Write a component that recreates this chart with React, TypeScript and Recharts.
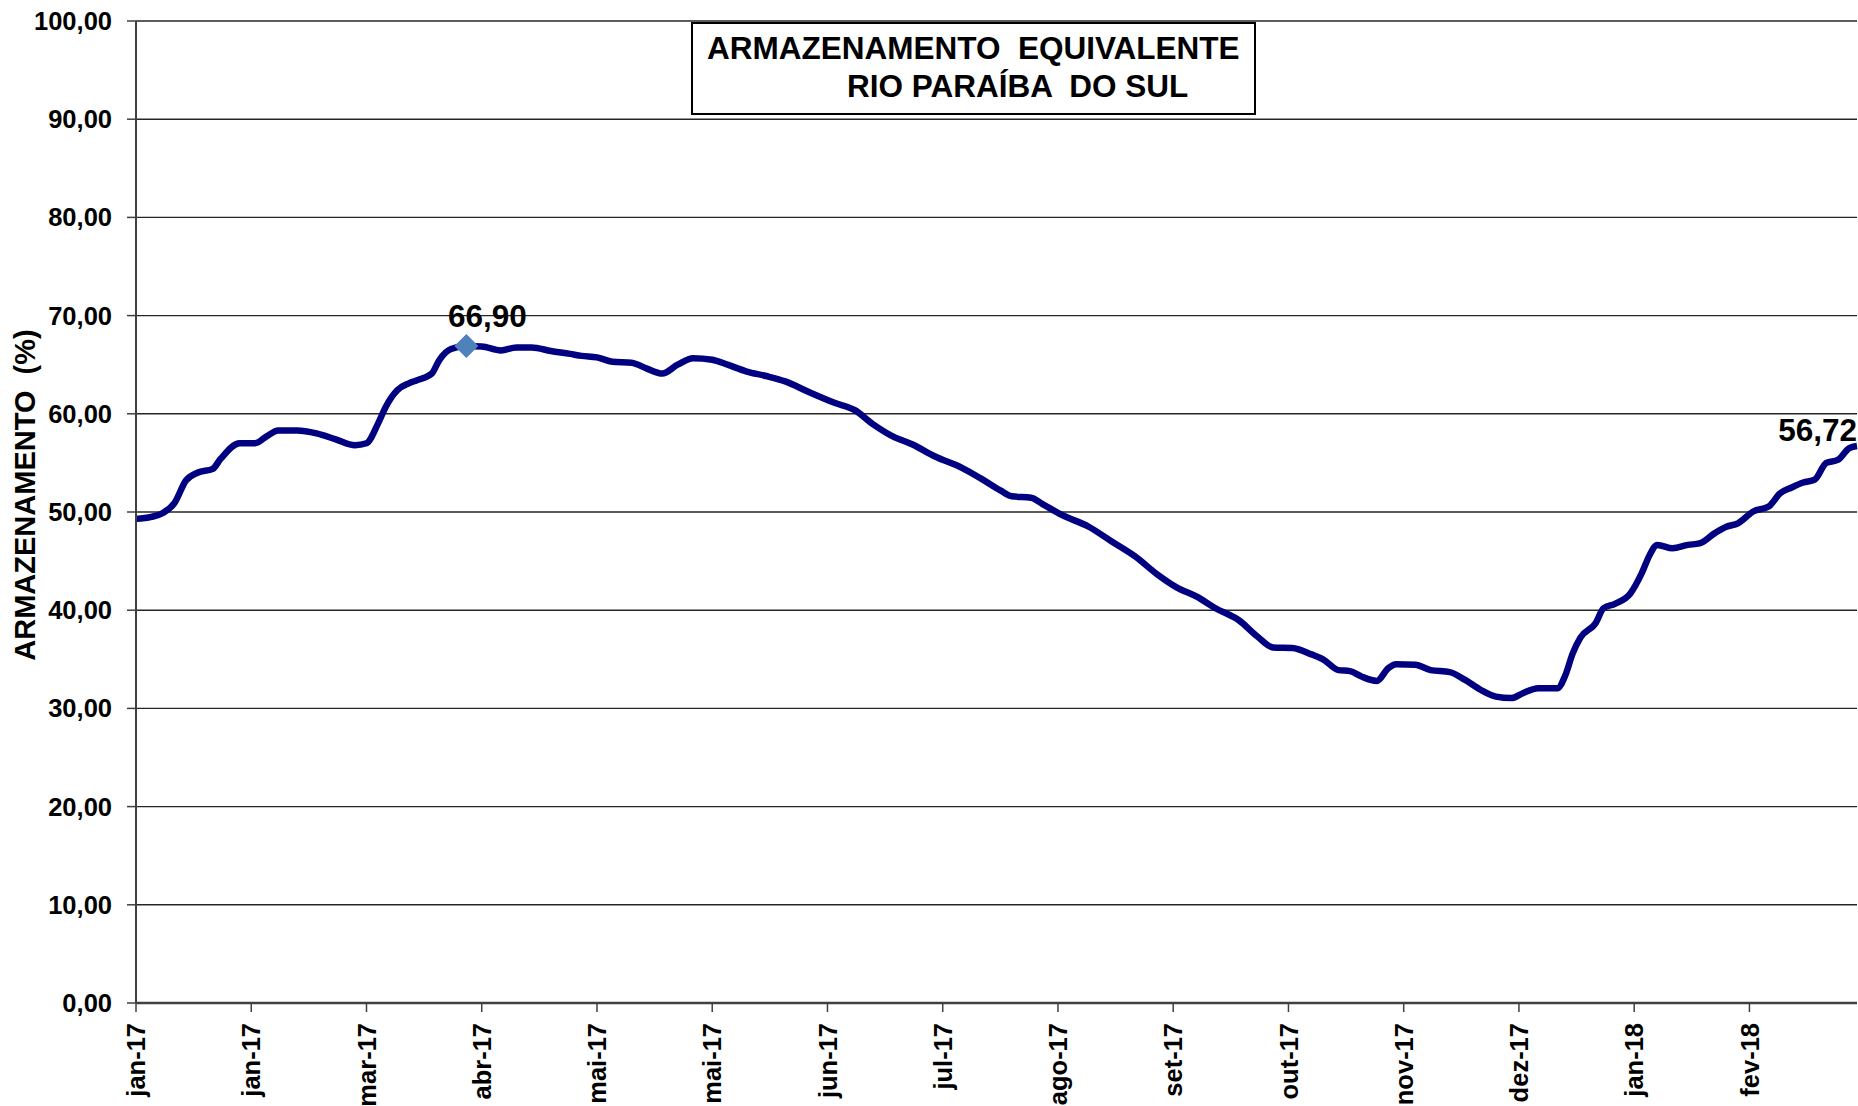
import { LineChart, Line, XAxis, YAxis, CartesianGrid } from 'recharts';

// day index counted from 1 jan 2017, storage in %
const DAYS = [
  0, 4, 7, 10, 13, 16, 20, 22, 27, 31, 34, 37, 42, 47, 52, 57, 60, 63, 65, 68, 71, 73, 77, 79, 82, 86, 90, 95, 99,
  103, 108, 113, 116, 120, 124, 129, 133, 137, 141, 145, 150, 154, 159, 164, 169, 175, 182, 187, 192, 197, 202, 208,
  215, 220, 225, 228, 233, 236, 241, 248, 254, 260, 266, 271, 276, 281, 287, 292, 296, 301, 306, 309, 313, 316, 319,
  323, 326, 328, 333, 337, 342, 346, 350, 354, 358, 361, 365, 370, 372, 374, 376, 380, 382, 385, 389, 392, 394, 396,
  400, 404, 407, 411, 414, 417, 421, 425, 428, 431, 434, 437, 440, 443, 446, 448,
];
const STORAGE = [
  49.3, 49.5, 49.9, 50.9, 53.2, 54.0, 54.4, 55.4, 57.0, 57.0, 57.7, 58.3, 58.3, 58.0, 57.4, 56.8, 57.0, 59.0, 60.7,
  62.4, 63.1, 63.4, 64.1, 65.5, 66.6, 66.9, 66.85, 66.45, 66.75, 66.75, 66.4, 66.1, 65.9, 65.75, 65.3, 65.2, 64.6,
  64.1, 65.0, 65.65, 65.5, 65.0, 64.3, 63.85, 63.3, 62.25, 61.1, 60.4, 58.9, 57.7, 56.9, 55.65, 54.5, 53.4, 52.2,
  51.6, 51.45, 50.8, 49.7, 48.5, 47.0, 45.5, 43.6, 42.3, 41.4, 40.2, 39.0, 37.3, 36.2, 36.15, 35.5, 35.0, 33.9, 33.8,
  33.25, 32.8, 34.1, 34.5, 34.45, 33.9, 33.7, 32.9, 31.9, 31.2, 31.05, 31.55, 32.05, 32.05, 33.3, 35.6, 37.2, 38.7,
  40.2, 40.65, 41.7, 43.8, 45.6, 46.65, 46.3, 46.65, 46.8, 47.85, 48.5, 48.85, 50.05, 50.55, 51.9, 52.5, 53.0, 53.3,
  55.0, 55.3, 56.5, 56.72,
];
const PEAK_DAY = 86;

const TICK_DAYS = [0, 30, 60, 90, 120, 150, 180, 210, 240, 270, 300, 330, 360, 390, 420];
const TICK_LABELS = [
  'jan-17', 'jan-17', 'mar-17', 'abr-17', 'mai-17', 'mai-17', 'jun-17', 'jul-17',
  'ago-17', 'set-17', 'out-17', 'nov-17', 'dez-17', 'jan-18', 'fev-18',
];
const Y_TICKS = [0, 10, 20, 30, 40, 50, 60, 70, 80, 90, 100];

const FONT = '"Liberation Sans", Arial, sans-serif';
const data = DAYS.map((day, i) => ({ day, value: STORAGE[i] }));

function fmt(v: number) {
  return v.toFixed(2).replace('.', ',');
}

function XTick({ x, y, payload }: any) {
  const label = TICK_LABELS[TICK_DAYS.indexOf(payload.value)];
  return (
    <text
      transform={`translate(${x},${y}) rotate(-90)`}
      textAnchor="end"
      dy="0.36em"
      fontSize={25.5}
      fontWeight="bold"
      fontFamily={FONT}
      fill="#000"
    >
      {label}
    </text>
  );
}

function YLabel() {
  return (
    <text
      x={25}
      y={495}
      transform="rotate(-90, 25, 495)"
      textAnchor="middle"
      dy="0.36em"
      fontSize={29}
      fontWeight="bold"
      fontFamily={FONT}
      fill="#000"
      style={{ whiteSpace: 'pre' }}
    >
      ARMAZENAMENTO  (%)
    </text>
  );
}

function PeakDot(props: any) {
  const { cx, cy, payload, index } = props;
  if (payload.day !== PEAK_DAY) return <g key={index} />;
  const r = 12;
  return (
    <path
      key={index}
      d={`M${cx},${cy - r} L${cx + r},${cy} L${cx},${cy + r} L${cx - r},${cy} Z`}
      fill="#4f81bd"
      stroke="none"
    />
  );
}

function PointLabel(props: any) {
  const { x, y, index } = props;
  const style = { fontSize: 31.5, fontWeight: 'bold' as const, fontFamily: FONT, fill: '#000' };
  if (DAYS[index] === PEAK_DAY) {
    return (
      <text x={x + 21} y={y - 19} textAnchor="middle" {...style}>
        {fmt(STORAGE[index])}
      </text>
    );
  }
  if (index === DAYS.length - 1) {
    return (
      <text x={x} y={y - 5} textAnchor="end" {...style}>
        {fmt(STORAGE[index])}
      </text>
    );
  }
  return null;
}

export default function App() {
  return (
    <div style={{ position: 'absolute', left: 0, top: 0, width: 1858, height: 1106, background: '#fff', fontFamily: FONT }}>
      <LineChart width={1858} height={1106} data={data} margin={{ top: 21, right: 1, left: 0, bottom: 0 }}>
        <CartesianGrid vertical={false} stroke="#262626" strokeWidth={1.4} />
        <XAxis
          type="number"
          dataKey="day"
          domain={[0, 448]}
          ticks={TICK_DAYS}
          interval={0}
          height={103}
          tick={<XTick />}
          tickSize={9}
          tickMargin={11}
          axisLine={{ stroke: '#404040', strokeWidth: 2.5 }}
          tickLine={{ stroke: '#404040', strokeWidth: 1.5 }}
        />
        <YAxis
          domain={[0, 100]}
          ticks={Y_TICKS}
          interval={0}
          width={136}
          tickFormatter={fmt}
          tickSize={9}
          tickMargin={15}
          tick={{ fontSize: 25.5, fontWeight: 'bold', fill: '#000', fontFamily: FONT }}
          axisLine={{ stroke: '#404040', strokeWidth: 2 }}
          tickLine={{ stroke: '#404040', strokeWidth: 1.5 }}
          label={<YLabel />}
        />
        <Line
          type="monotone"
          dataKey="value"
          stroke="#000080"
          strokeWidth={6.5}
          strokeLinejoin="round"
          dot={PeakDot}
          activeDot={false}
          label={PointLabel}
          isAnimationActive={false}
        />
      </LineChart>
      <div
        style={{
          position: 'absolute',
          left: 691,
          top: 22,
          width: 561,
          height: 89,
          border: '2px solid #000',
          background: '#fff',
          fontSize: 31.5,
          fontWeight: 'bold',
          lineHeight: '38px',
          color: '#000',
        }}
      >
        <div style={{ position: 'absolute', left: 14, top: 5, whiteSpace: 'pre' }}>ARMAZENAMENTO  EQUIVALENTE</div>
        <div style={{ position: 'absolute', left: 154, top: 43, whiteSpace: 'pre' }}>RIO PARAÍBA  DO SUL</div>
      </div>
    </div>
  );
}
